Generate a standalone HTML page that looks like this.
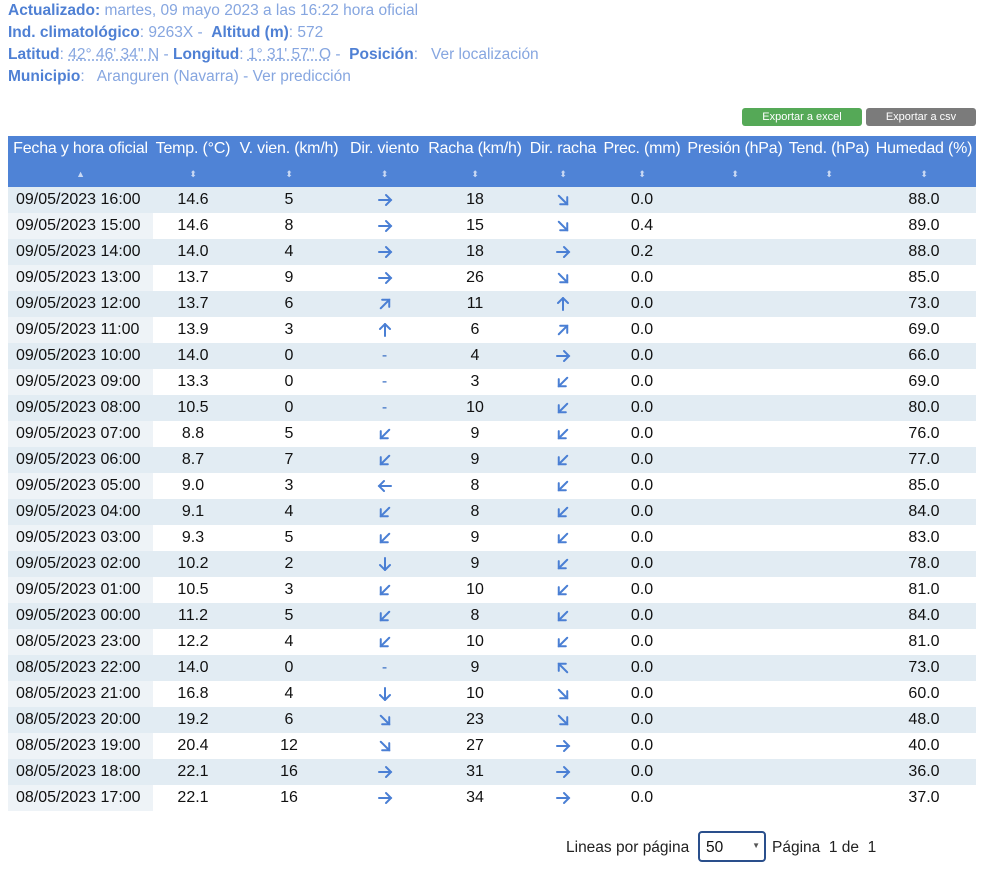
<!DOCTYPE html>
<html><head><meta charset="utf-8">
<style>
body{margin:0;background:#fff;font-family:"Liberation Sans",sans-serif;width:983px;height:874px;overflow:hidden;position:relative}
.info{position:absolute;left:8px;font-size:15.5px;color:#86a6e0;white-space:nowrap}
.info b{color:#4f80d4}
.u{text-decoration:underline dotted}
.btn{position:absolute;top:108px;height:18px;font-size:11px;color:#fff;text-align:center;line-height:18px;border-radius:3px}
table{position:absolute;left:8px;top:136px;border-collapse:collapse;font-size:16px;table-layout:fixed;width:968px}
th{background:#4f83d6;color:#fff;font-weight:normal;padding:0;white-space:nowrap;font-size:16px;letter-spacing:-0.2px}
tr.h1 th{height:25px}
tr.h2 th{height:26px;font-size:9px;color:#c9d8f3}
td{height:26px;padding:0;text-align:center;color:#111}
td.d{text-align:left;padding-left:8px}
tr.o td{background:#e2ecf3}
tr.e td.d{background:#eef3f7}
.pg{position:absolute;top:839px;left:566px;font-size:15.5px;color:#222;white-space:nowrap}
.sel{position:absolute;left:698px;top:831px;width:68px;height:31px;border:2px solid #2a4f8c;border-radius:4px;box-sizing:border-box;font-size:15.5px;padding:6px 0 0 6px;color:#111}
</style></head><body>
<div class="info" style="top:2px"><b>Actualizado:</b> martes, 09 mayo 2023 a las 16:22 hora oficial</div>
<div class="info" style="top:24px"><b>Ind. climatológico</b>: 9263X - &nbsp;<b>Altitud (m)</b>: 572</div>
<div class="info" style="top:46px"><b>Latitud</b>: <span class="u">42° 46' 34'' N</span> - <b>Longitud</b>: <span class="u">1° 31' 57'' O</span> - &nbsp;<b>Posición</b>: &nbsp; <span>Ver localización</span></div>
<div class="info" style="top:68px"><b>Municipio</b>: &nbsp; Aranguren (Navarra) - <span>Ver predicción</span></div>
<div class="btn" style="left:742px;width:120px;background:#55a957">Exportar a excel</div>
<div class="btn" style="left:866px;width:110px;background:#7b7b7b">Exportar a csv</div>
<table>
<colgroup><col style="width:145px"><col style="width:80px"><col style="width:112px"><col style="width:79px"><col style="width:102px"><col style="width:74px"><col style="width:84px"><col style="width:102px"><col style="width:86px"><col style="width:104px"></colgroup>
<thead>
<tr class="h1"><th>Fecha y hora oficial</th><th>Temp. (°C)</th><th>V. vien. (km/h)</th><th>Dir. viento</th><th>Racha (km/h)</th><th>Dir. racha</th><th>Prec. (mm)</th><th>Presión (hPa)</th><th>Tend. (hPa)</th><th>Humedad (%)</th></tr>
<tr class="h2"><th>▲</th><th>⬍</th><th>⬍</th><th>⬍</th><th>⬍</th><th>⬍</th><th>⬍</th><th>⬍</th><th>⬍</th><th>⬍</th></tr>
</thead>
<tbody id="tb"></tbody>
</table>
<div class="pg">Lineas por página</div>
<div class="sel">50<span style="position:absolute;right:4px;top:8px;font-size:8px;color:#555">▼</span></div>
<div class="pg" style="left:772px">Página&nbsp; 1 de&nbsp; 1</div>
<script>
const dates=["09/05/2023 16:00","09/05/2023 15:00","09/05/2023 14:00","09/05/2023 13:00","09/05/2023 12:00","09/05/2023 11:00","09/05/2023 10:00","09/05/2023 09:00","09/05/2023 08:00","09/05/2023 07:00","09/05/2023 06:00","09/05/2023 05:00","09/05/2023 04:00","09/05/2023 03:00","09/05/2023 02:00","09/05/2023 01:00","09/05/2023 00:00","08/05/2023 23:00","08/05/2023 22:00","08/05/2023 21:00","08/05/2023 20:00","08/05/2023 19:00","08/05/2023 18:00","08/05/2023 17:00"];
const temps=["14.6","14.6","14.0","13.7","13.7","13.9","14.0","13.3","10.5","8.8","8.7","9.0","9.1","9.3","10.2","10.5","11.2","12.2","14.0","16.8","19.2","20.4","22.1","22.1"];
const winds=[5,8,4,9,6,3,0,0,0,5,7,3,4,5,2,3,5,4,0,4,6,12,16,16];
const windDirs=["E","E","E","E","NE","N","-","-","-","SW","SW","W","SW","SW","S","SW","SW","SW","-","S","SE","SE","E","E"];
const gusts=[18,15,18,26,11,6,4,3,10,9,9,8,8,9,9,10,8,10,9,10,23,27,31,34];
const gustDirs=["SE","SE","E","SE","N","NE","E","SW","SW","SW","SW","SW","SW","SW","SW","SW","SW","SW","NW","SE","SE","E","E","E"];
const precs=["0.0","0.4","0.2","0.0","0.0","0.0","0.0","0.0","0.0","0.0","0.0","0.0","0.0","0.0","0.0","0.0","0.0","0.0","0.0","0.0","0.0","0.0","0.0","0.0"];
const hums=["88.0","89.0","88.0","85.0","73.0","69.0","66.0","69.0","80.0","76.0","77.0","85.0","84.0","83.0","78.0","81.0","84.0","81.0","73.0","60.0","48.0","40.0","36.0","37.0"];
const ang={E:0,SE:45,S:90,SW:135,W:180,NW:225,N:270,NE:315};
function arrow(d){
  if(d==="-")return '<span style="color:#3a6fc4">-</span>';
  return '<svg width="16" height="14" viewBox="-8 -7 16 14" style="vertical-align:middle"><g transform="rotate('+ang[d]+')" stroke="#4a7fd4" stroke-width="2" fill="none" stroke-linecap="round"><line x1="-6" y1="0" x2="6" y2="0"/><polyline points="1,-5 6,0 1,5"/></g></svg>';
}
const tb=document.getElementById('tb');
dates.forEach((d,i)=>{
  const tr=document.createElement('tr');
  tr.className=i%2===0?'o':'e';
  
  
  tr.innerHTML='<td class="d">'+d+'</td><td>'+temps[i]+'</td><td>'+winds[i]+'</td><td>'+arrow(windDirs[i])+'</td><td>'+gusts[i]+'</td><td>'+arrow(gustDirs[i])+'</td><td>'+precs[i]+'</td><td></td><td></td><td>'+hums[i]+'</td>';
  tb.appendChild(tr);
});
</script>
</body></html>
